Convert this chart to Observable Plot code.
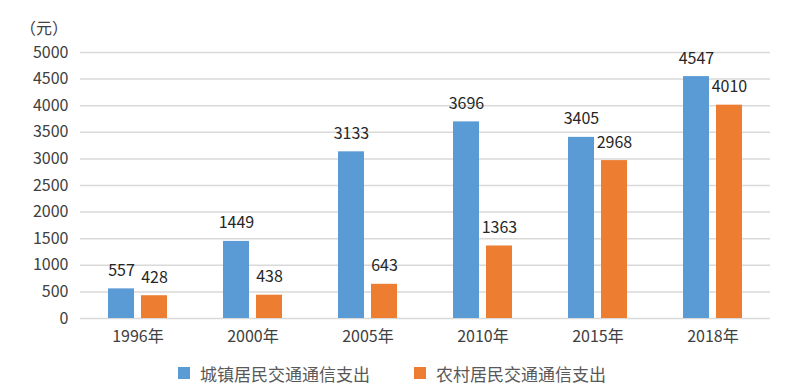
<!DOCTYPE html>
<html>
<head>
<meta charset="utf-8">
<script src="https://cdn.jsdelivr.net/npm/d3@7"></script>
<script src="https://cdn.jsdelivr.net/npm/@observablehq/plot@0.6"></script>
<style>
  html, body { margin: 0; padding: 0; background: #fff; }
  #wrap { position: relative; width: 800px; height: 388px; font-family: "Noto Sans CJK SC", "Noto Sans", sans-serif; }
  #unit { position: absolute; left: 20px; top: 15px; font-size: 16px; color: #404040; }
  #legend { position: absolute; left: 0; top: 360px; width: 800px; height: 26px; display: flex; justify-content: center; gap: 44px; font-size: 17px; color: #595959; margin-left: -8px; }
  .item { display: flex; align-items: center; gap: 10px; }
  .sw { width: 12px; height: 12px; display: inline-block; }
</style>
</head>
<body>
<div id="wrap">
  <div id="unit">（元）</div>
  <div id="chart"></div>
  <div id="legend"></div>
</div>
<script>
const years = ["1996", "2000", "2005", "2010", "2015", "2018"];
const series = ["城镇居民交通通信支出", "农村居民交通通信支出"];
const urban = [557, 1449, 3133, 3696, 3405, 4547];
const rural = [428, 438, 643, 1363, 2968, 4010];
const yTicks = [0, 500, 1000, 1500, 2000, 2500, 3000, 3500, 4000, 4500, 5000];
const colors = ["#5b9bd5", "#ed7d31"];

const rows = [];
years.forEach((y, i) => {
  rows.push({year: y, series: series[0], value: urban[i]});
  rows.push({year: y, series: series[1], value: rural[i]});
});

const chart = Plot.plot({
  width: 800,
  height: 355,
  marginLeft: 79,
  marginRight: 30,
  marginTop: 52,
  marginBottom: 37,
  style: {fontFamily: '"Noto Sans CJK SC", "Noto Sans", sans-serif', fontSize: "16px", color: "#404040", background: "transparent"},
  fx: {domain: years, padding: 0, axis: "bottom", label: null, tickSize: 0, tickPadding: 12, tickFormat: d => d + "年"},
  x: {domain: series, axis: null, paddingInner: 0.212, paddingOuter: 0.848},
  y: {domain: [0, 5000], ticks: yTicks, tickFormat: d => String(d), label: null, tickSize: 0, tickPadding: 12, grid: false},
  color: {domain: series, range: colors},
  marks: [
    Plot.ruleY(yTicks, {stroke: "#d9d9d9", strokeWidth: 1.5}),
    Plot.barY(rows, {fx: "year", x: "series", y: "value", fill: "series"}),
    Plot.text(rows, {fx: "year", x: "series", y: "value", text: d => String(d.value), lineAnchor: "bottom", dy: -13, fill: "#262626", fontSize: 16})
  ]
});
document.getElementById("chart").appendChild(chart);

const legend = document.getElementById("legend");
series.forEach((s, i) => {
  const item = document.createElement("div");
  item.className = "item";
  const sw = document.createElement("span");
  sw.className = "sw";
  sw.style.background = colors[i];
  const t = document.createElement("span");
  t.textContent = s;
  item.appendChild(sw);
  item.appendChild(t);
  legend.appendChild(item);
});
</script>
</body>
</html>
